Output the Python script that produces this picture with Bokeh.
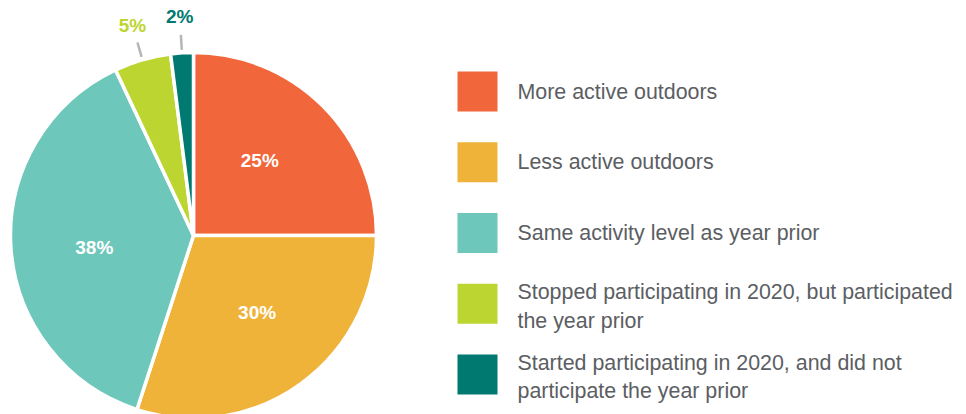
import numpy as np
from bokeh.plotting import figure
from bokeh.models import Range1d, ColumnDataSource
from bokeh.core.properties import value
from bokeh.embed import file_html
from bokeh.resources import INLINE

categories = [
    "More active outdoors",
    "Less active outdoors",
    "Same activity level as year prior",
    "Stopped participating in 2020, but participated\nthe year prior",
    "Started participating in 2020, and did not\nparticipate the year prior",
]
values = [25, 30, 38, 5, 2]
colors = ["#F1663A", "#EFB33A", "#6DC7BA", "#BCD530", "#007A70"]
labels = ["25%", "30%", "38%", "5%", "2%"]
outside = [False, False, False, True, True]

W, H = 966, 414
p = figure(width=W, height=H, output_backend="svg", toolbar_location=None,
           x_range=Range1d(0, W), y_range=Range1d(0, H), min_border=0)
p.axis.visible = False
p.grid.visible = False
p.outline_line_color = None
p.background_fill_color = "white"

# pie geometry (layout)
cx, cy, R = 193, 179, 183
vals = np.array(values, dtype=float)
frac = vals / vals.sum()
cum_end = np.cumsum(frac)
cum_start = cum_end - frac
start_angle = np.pi / 2 - 2 * np.pi * cum_end
end_angle = np.pi / 2 - 2 * np.pi * cum_start
mid = np.pi / 2 - 2 * np.pi * (cum_start + cum_end) / 2

src = ColumnDataSource(dict(start=start_angle, end=end_angle, color=colors))
p.wedge(x=cx, y=cy, radius=R, start_angle="start", end_angle="end",
        fill_color="color", line_color="white", line_width=3.5, source=src)

# labels
inner_r, outer_r = 100, 219
inner_rot = np.deg2rad(3.5)
lx, ly, ltxt, lcol = [], [], [], []
for i in range(len(values)):
    if outside[i]:
        r, a = outer_r, mid[i]
        p.segment(x0=cx + 186 * np.cos(a), y0=cy + 186 * np.sin(a),
                  x1=cx + 201 * np.cos(a), y1=cy + 201 * np.sin(a),
                  line_color="#B5B5B5", line_width=2.5)
    else:
        r, a = inner_r, mid[i] + inner_rot
    lx.append(cx + r * np.cos(a))
    ly.append(cy + r * np.sin(a))
    ltxt.append(labels[i])
    lcol.append(colors[i] if outside[i] else "white")
p.text(x=lx, y=ly, text=ltxt, text_color=lcol, text_font=value("Liberation Sans"),
       text_font_style="bold", text_font_size="19px", text_align="center",
       text_baseline="middle")

# legend
leg_x, leg_top, leg_step = 477, 323, 70.75
ys = [leg_top - i * leg_step for i in range(len(categories))]
p.rect(x=[leg_x] * len(ys), y=ys, width=40, height=40, fill_color=colors, line_color=None)
ty = [y if "\n" not in c else y - 2.5 for y, c in zip(ys, categories)]
p.text(x=[leg_x + 40] * len(ys), y=ty, text=categories, text_color="#5B5E63",
       text_font=value("Liberation Sans"), text_font_size="21.4px",
       text_align="left", text_baseline="middle", text_line_height=1.2)

open("out.html", "w").write(file_html(p, INLINE))
